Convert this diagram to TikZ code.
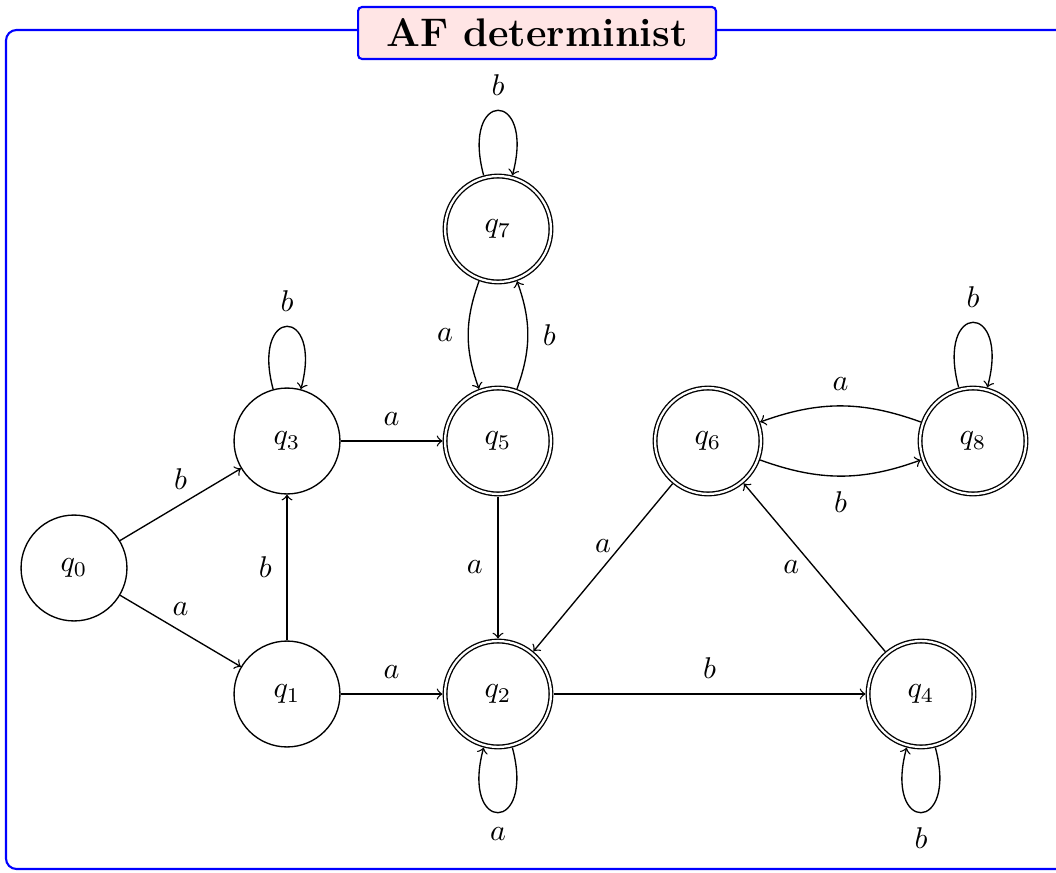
\documentclass[tikz,border=0pt]{standalone}
\usetikzlibrary{arrows}
\begin{document}
\begin{tikzpicture}[x=0.33333pt,y=0.33333pt,
  plainstate/.style={draw, circle, minimum size=35.3pt, inner sep=0pt, line width=0.45pt},
  finalstate/.style={plainstate, double, double distance=0.75pt, outer sep=0.85pt},
  trans/.style={->, line width=0.45pt},
  framebox/.style={draw=blue, line width=0.7pt, rounded corners=3.5pt},
  titlebox/.style={draw=blue, fill=red!10, line width=0.7pt, rounded corners=1.3pt,
    minimum width=119.3pt, minimum height=17.3pt, inner sep=0pt,
    font=\fontsize{13.3}{16}\selectfont\bfseries}]
\useasboundingbox (0,0) rectangle (1056,872);

% outer frame with its title
\begin{scope}
  \clip (0,0) rectangle (1056,872);
  \draw[framebox] (6,3) rectangle (1120,842);
\end{scope}
\node[titlebox] (title) at (537,839) {AF determinist};

% states
\node[plainstate] (q0) at (74,304) {$q_0$};
\node[plainstate] (q3) at (287,431) {$q_3$};
\node[plainstate] (q1) at (287,178) {$q_1$};
\node[finalstate] (q5) at (498,431) {$q_5$};
\node[finalstate] (q7) at (498,643) {$q_7$};
\node[finalstate] (q2) at (498,178) {$q_2$};
\node[finalstate] (q6) at (708,431) {$q_6$};
\node[finalstate] (q8) at (973,431) {$q_8$};
\node[finalstate] (q4) at (921,178) {$q_4$};

% transitions
\draw[trans] (q0) -- node[above=1.5pt] {$b$} (q3);
\draw[trans] (q0) -- node[above=1.5pt] {$a$} (q1);
\draw[trans] (q1) -- node[left=1.5pt] {$b$} (q3);
\draw[trans] (q3) -- node[above=1.5pt] {$a$} (q5);
\draw[trans] (q1) -- node[above=1.5pt] {$a$} (q2);
\draw[trans] (q3) to[loop above] node[above=1.5pt] {$b$} (q3);
\draw[trans] (q7) to[bend right=20] node[left=1.5pt] {$a$} (q5);
\draw[trans] (q5) to[bend right=20] node[right=1.5pt] {$b$} (q7);
\draw[trans] (q7) to[loop above] node[above=1.5pt] {$b$} (q7);
\draw[trans] (q5) -- node[left=1.5pt] {$a$} (q2);
\draw[trans] (q2) to[loop below] node[below=1.5pt] {$a$} (q2);
\draw[trans] (q2) -- node[above=1.5pt] {$b$} (q4);
\draw[trans] (q4) to[loop below] node[below=1.5pt] {$b$} (q4);
\draw[trans] (q4) -- node[left=1.5pt] {$a$} (q6);
\draw[trans] (q6) -- node[above=1.5pt] {$a$} (q2);
\draw[trans] (q8) to[bend right=20] node[above=1.5pt] {$a$} (q6);
\draw[trans] (q6) to[bend right=20] node[below=1.5pt] {$b$} (q8);
\draw[trans] (q8) to[loop above] node[above=1.5pt] {$b$} (q8);
\end{tikzpicture}
\end{document}
